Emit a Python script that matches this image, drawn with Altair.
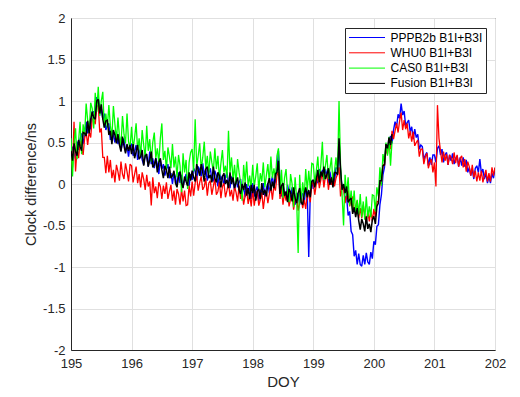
import altair as alt
import numpy as np
import pandas as pd

# Clock differences in units of 0.01 ns, sampled every 0.025 day starting at DOY 195
STEP = 0.025
START = 195.0

fusion = [
    40,28,49,39,34,53,45,40,62,61,58,76,61,78,87,80,78,100,102,85,96,78,68,76,77,59,64,48,65,59,49,60,47,39,57,46,37,48,40,47,
    36,48,31,39,47,30,33,41,22,34,36,21,29,39,20,23,31,14,26,31,17,7,22,17,7,21,7,10,16,1,-4,9,15,2,-5,9,3,-2,14,4,
    16,8,3,24,17,10,24,14,3,18,21,7,11,2,21,7,2,14,10,-4,9,13,0,5,-5,14,0,8,-5,2,8,-7,-12,0,-7,2,-14,-5,-18,-1,
    -11,-1,-20,-9,-6,-18,1,-13,-7,-15,0,7,-8,3,-5,12,14,28,-12,-2,1,-14,-9,-22,-6,-10,-21,-4,-17,-23,-11,-5,-22,-25,-12,-4,-16,-7,-16,3,
    5,-4,6,17,2,15,9,21,6,11,19,-1,8,-4,14,14,11,55,18,-7,0,-11,-3,-22,-19,-17,-36,-28,-40,-29,-44,-55,-42,-48,-57,-39,-54,-48,-58,-43,
    -39,-48,-27,-23,4,4,22,23,48,43,56,47,60,
]

cas0 = [
    55,9,48,67,30,52,75,36,72,59,97,77,62,98,91,67,110,87,117,82,100,111,68,85,68,95,70,56,94,72,53,80,57,46,82,60,49,85,51,43,
    69,42,56,73,41,55,33,65,47,32,70,40,54,27,50,62,31,43,26,55,73,29,40,17,44,33,19,48,20,33,8,35,22,-10,37,14,29,-6,26,38,
    42,15,78,21,34,49,17,32,51,19,34,12,39,26,15,43,18,34,6,25,41,14,22,7,64,14,32,5,23,0,30,14,2,-20,23,2,27,-3,10,-5,
    23,-3,9,25,-8,13,3,26,-4,10,24,2,33,7,19,6,34,43,-7,17,-17,7,18,-9,-22,12,0,-28,8,-18,-83,11,-23,2,-16,18,-8,16,-6,25,
    24,1,16,33,3,23,51,5,22,35,6,19,32,0,16,32,12,100,22,-12,-50,11,-14,8,-26,-8,-31,-8,-36,-19,-37,-12,-40,-21,-43,-15,-40,-27,-40,-13,
    -14,-33,-4,-15,20,-2,36,25,50,34,57,22,52,
]

whu0 = [
    40,20,75,15,43,31,52,43,35,55,63,47,63,56,79,77,72,93,95,62,67,32,32,13,34,14,29,7,17,2,23,15,4,27,12,6,25,15,3,24,
    22,2,12,21,1,12,-4,14,6,-7,11,-3,3,-26,8,-11,-3,-17,2,-3,-18,-2,-12,2,-18,-9,-1,-20,-8,-25,-6,-12,-25,-6,-21,-8,-26,-25,-2,-15,
    3,-14,1,10,-8,2,9,-7,-3,7,-14,1,4,-13,-3,7,-13,-9,3,-17,-3,1,-16,-8,2,-15,-7,-20,-3,-10,-21,-2,-18,-8,-25,-14,-7,-24,-13,-27,
    -6,-26,-14,-8,-26,-19,-10,-30,-15,-9,-23,-12,-2,-19,-2,-8,10,15,-18,-4,-25,-10,-20,-8,-27,-18,-12,-31,-18,-15,-32,-23,-14,-29,-19,-30,-11,-13,-22,0,
    2,-13,0,11,-5,5,14,-4,9,12,-7,7,-1,13,-3,7,12,20,-15,-6,-4,-23,-14,-8,-27,-19,-15,-34,-27,-20,-41,-29,-41,-25,-39,-47,-33,-45,-31,-45,
    -30,-40,-21,-22,3,0,24,22,42,36,51,42,64,54,64,73,62,76,86,65,77,66,73,55,64,51,63,46,50,53,33,42,42,24,33,37,19,26,30,14,
    26,-3,95,55,40,26,39,28,36,23,35,32,24,38,25,35,21,31,34,20,30,15,27,21,10,23,8,16,3,14,4,16,2,10,17,3,13,3,20,10,
    20,
]

pppb2b = [
    29,45,39,30,51,41,54,61,48,60,75,61,74,66,87,87,82,104,104,84,91,78,85,65,71,73,53,65,59,50,63,48,57,40,49,55,39,46,33,47,
    48,34,39,47,29,38,43,29,23,37,32,21,39,24,31,19,31,24,12,29,18,24,10,18,24,7,13,0,14,8,-2,14,1,11,-3,5,12,-1,-2,12,
    5,19,15,5,21,17,9,25,11,18,4,13,19,6,3,16,10,-3,15,5,10,-2,9,14,1,-5,9,3,-7,7,-4,2,6,-11,-3,-16,0,-12,-2,-18,
    1,-15,-8,-3,-21,-7,-13,1,-15,-5,1,-11,1,9,-2,3,16,40,4,-15,0,-12,-17,-1,-10,-19,-4,-18,-25,-11,-13,-25,-11,-12,-23,-6,-9,-88,-12,4,
    -6,8,6,1,18,8,17,4,18,11,1,15,3,10,2,20,18,45,16,-6,-1,-18,-15,-38,-33,-57,-61,-87,-80,-97,-84,-97,-99,-86,-97,-83,-94,-97,-82,-90,
    -69,-73,-51,-49,-25,-13,11,20,47,41,50,58,49,65,75,69,84,79,97,83,88,70,74,77,63,69,54,66,56,60,42,47,45,29,35,38,22,32,23,35,
    35,26,43,46,35,42,26,35,38,23,35,28,37,24,31,34,21,32,22,32,21,29,14,20,10,18,6,19,22,14,30,13,18,6,13,1,9,1,13,7,
    19,
]

names = ["PPPB2b B1I+B3I", "WHU0 B1I+B3I", "CAS0 B1I+B3I", "Fusion B1I+B3I"]
colors = ["#0000ff", "#ff0000", "#00ff00", "#000000"]
widths = [1.4, 1.3, 1.3, 1.5]
series_vals = [pppb2b, whu0, cas0, fusion]

x_ticks = [195, 196, 197, 198, 199, 200, 201, 202]
y_ticks = [-2, -1.5, -1, -0.5, 0, 0.5, 1, 1.5, 2]

frames = []
for name, vals in zip(names, series_vals):
    n = len(vals)
    frames.append(pd.DataFrame({
        "doy": np.round(START + STEP * np.arange(n), 4),
        "diff": np.array(vals, dtype=float) / 100.0,
        "series": name,
    }))
df = pd.concat(frames, ignore_index=True)

FONT = "Liberation Sans"
TXT = "#262626"

color = alt.Color(
    "series:N",
    scale=alt.Scale(domain=names, range=colors),
    title=None,
    legend=alt.Legend(
        orient="none", legendX=274, legendY=10,
        symbolType="stroke", symbolSize=1296, symbolStrokeWidth=1,
        clipHeight=12, rowPadding=3.3, padding=3.5, labelOffset=5,
        labelFont=FONT, labelFontSize=12, labelColor="#000000",
        strokeColor=TXT, fillColor="white", cornerRadius=0,
    ),
)

x = alt.X(
    "doy:Q",
    scale=alt.Scale(domain=[195, 202], nice=False, zero=False),
    axis=alt.Axis(
        title="DOY", values=x_ticks, labelExpr="datum.value + ''", labelFlush=False,
        grid=True, gridColor="#e0e0e0", ticks=False, tickSize=0,
        domainColor=TXT, labelColor=TXT, labelFont=FONT, labelFontSize=13,
        labelPadding=7, titleFont=FONT, titleFontSize=15, titleFontWeight="normal",
        titleColor=TXT, titlePadding=4,
    ),
)
y = alt.Y(
    "diff:Q",
    scale=alt.Scale(domain=[-2, 2], nice=False),
    axis=alt.Axis(
        title="Clock difference/ns", values=y_ticks, labelExpr="datum.value + ''", labelFlush=False,
        grid=True, gridColor="#e0e0e0", ticks=False, tickSize=0,
        domainColor=TXT, labelColor=TXT, labelFont=FONT, labelFontSize=13,
        labelPadding=6, titleFont=FONT, titleFontSize=14.5, titleFontWeight="normal",
        titleColor=TXT, titlePadding=4,
    ),
)

layers = []
for name, w in zip(names, widths):
    layers.append(
        alt.Chart(df)
        .transform_filter(alt.datum.series == name)
        .mark_line(strokeWidth=w, clip=True, strokeJoin="miter", strokeMiterLimit=2)
        .encode(x=x, y=y, color=color, order="doy:Q")
    )

chart = (
    alt.layer(*layers)
    .properties(
        width=424, height=332,
        autosize=alt.AutoSizeParams(type="none"),
        padding={"left": 63, "top": 10, "right": 17, "bottom": 39},
        background="white",
    )
    .configure_view(stroke=TXT, strokeWidth=1)
)

chart.save("out.html", embed_options={"renderer": "svg", "actions": False})
